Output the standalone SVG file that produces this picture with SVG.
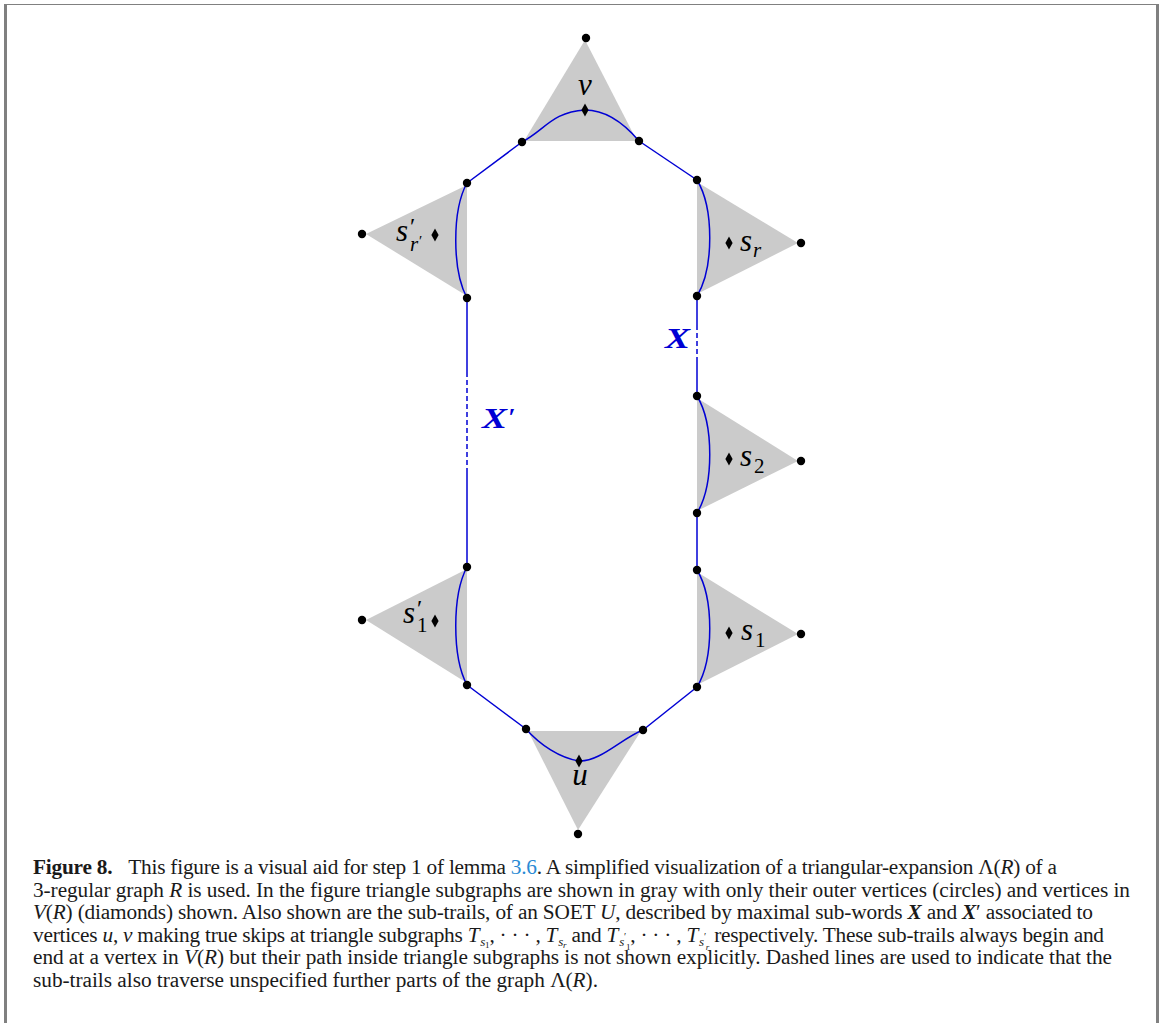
<svg xmlns="http://www.w3.org/2000/svg" width="1163" height="1023" viewBox="0 0 1163 1023">
<style>
.tri{fill:#cbcbcb;stroke:none}
.trail{fill:none;stroke:#0000d4;stroke-width:1.5}
.dash{fill:none;stroke:#0000d4;stroke-width:1.5;stroke-dasharray:5 3}
.m{font-family:"Liberation Serif","Times New Roman",serif;font-style:italic;fill:#000}
.up{font-family:"Liberation Serif","Times New Roman",serif;font-style:normal;fill:#000}
.bx{font-family:"Liberation Serif","Times New Roman",serif;font-style:italic;font-weight:bold;fill:#0000d4}
.cap{font-family:"Liberation Serif","Times New Roman",serif;font-size:21.3px;fill:#1a1a1a}
.i{font-style:italic}
.b{font-weight:bold}
.link{fill:#2a8ad4}
</style>
<defs>
<path id="dia" d="M0,-6.5 L3.6,0 L0,6.5 L-3.6,0 Z" fill="#000"/>
<circle id="pt" r="4.2" fill="#000"/>
</defs>
<rect x="0" y="0" width="1163" height="1023" fill="#fff"/>
<g id="frame" fill="none" stroke="#808080">
<line x1="4" y1="4.5" x2="1159" y2="4.5" stroke-width="1"/>
<line x1="5.5" y1="4" x2="5.5" y2="1023" stroke-width="3"/>
<line x1="1157.5" y1="4" x2="1157.5" y2="1023" stroke-width="3"/>
</g>

<g id="triangles">
<polygon id="tri-v" class="tri" points="585,40 524,141 637,141"/>
<polygon id="tri-srp" class="tri" points="366,234 467,185 467,296"/>
<polygon id="tri-sr" class="tri" points="697,182 798,243 697,294"/>
<polygon id="tri-s2" class="tri" points="697,398 798,461 697,511"/>
<polygon id="tri-s1" class="tri" points="697,572 798,634 697,685"/>
<polygon id="tri-s1p" class="tri" points="366,620 467,569 467,683"/>
<polygon id="tri-u" class="tri" points="528,731 641,731 578,830"/>
</g>

<g id="connectors">
<path class="trail" d="M522,142 C545,130 552,112 585,110 C610,110 628,128 639,141"/>
<path class="trail" d="M467,183 L522,142"/>
<path class="trail" d="M639,141 L697,180"/>
<path class="trail" d="M467,183 C452,210 452,270 467,298"/>
<path class="trail" d="M697,180 C714,208 714,268 697,296"/>
<path class="trail" d="M467,298 L467,372"/>
<path class="dash" d="M467,372 L467,470"/>
<path class="trail" d="M467,470 L467,567"/>
<path class="trail" d="M697,296 L697,325"/>
<path class="dash" d="M697,325 L697,360"/>
<path class="trail" d="M697,360 L697,396"/>
<path class="trail" d="M697,396 C714,424 714,485 697,513"/>
<path class="trail" d="M697,513 L697,570"/>
<path class="trail" d="M697,570 C714,598 714,659 697,687"/>
<path class="trail" d="M467,567 C452,595 452,657 467,685"/>
<path class="trail" d="M467,685 L526,729"/>
<path class="trail" d="M697,687 L643,730"/>
<path class="trail" d="M526,729 C540,745 560,758 579,761 C600,762 622,738 643,730"/>
</g>

<g id="node-v">
<use href="#pt" x="586" y="38"/>
<use href="#pt" x="522" y="142"/>
<use href="#pt" x="639" y="141"/>
<use href="#dia" x="585" y="110"/>
<text class="m" x="585" y="95" font-size="31" text-anchor="middle">v</text>
</g>
<g id="node-srp">
<use href="#pt" x="362" y="234"/>
<use href="#pt" x="467" y="183"/>
<use href="#pt" x="467" y="298"/>
<use href="#dia" x="435" y="235"/>
<text class="m" x="396" y="241" font-size="31">s</text>
<text class="up" x="410" y="234" font-size="24">′</text>
<text class="m" x="410" y="251" font-size="21">r</text>
<text class="up" x="419" y="246" font-size="15">′</text>
</g>
<g id="node-sr">
<use href="#pt" x="697" y="180"/>
<use href="#pt" x="697" y="296"/>
<use href="#pt" x="801" y="243"/>
<use href="#dia" x="729" y="243"/>
<text class="m" x="740" y="251" font-size="31">s</text>
<text class="m" x="753" y="257" font-size="21">r</text>
</g>
<g id="node-s2">
<use href="#pt" x="697" y="396"/>
<use href="#pt" x="697" y="513"/>
<use href="#pt" x="801" y="461"/>
<use href="#dia" x="729" y="459"/>
<text class="m" x="740" y="466" font-size="31">s</text>
<text class="up" x="754" y="473" font-size="21">2</text>
</g>
<g id="node-s1">
<use href="#pt" x="697" y="570"/>
<use href="#pt" x="697" y="687"/>
<use href="#pt" x="801" y="634"/>
<use href="#dia" x="729" y="633"/>
<text class="m" x="741" y="640" font-size="31">s</text>
<text class="up" x="755" y="647" font-size="21">1</text>
</g>
<g id="node-s1p">
<use href="#pt" x="467" y="567"/>
<use href="#pt" x="467" y="685"/>
<use href="#pt" x="362" y="620"/>
<use href="#dia" x="435" y="621"/>
<text class="m" x="403" y="623" font-size="31">s</text>
<text class="up" x="417" y="616" font-size="24">′</text>
<text class="up" x="417" y="632" font-size="21">1</text>
</g>
<g id="node-u">
<use href="#pt" x="526" y="729"/>
<use href="#pt" x="643" y="730"/>
<use href="#pt" x="578" y="834"/>
<use href="#dia" x="579" y="761"/>
<text class="m" x="580" y="785" font-size="31" text-anchor="middle">u</text>
</g>
<g id="labels">
<text class="bx" x="665" y="348" font-size="30" textLength="25" lengthAdjust="spacingAndGlyphs">X</text>
<text class="bx" x="482" y="428" font-size="30" textLength="25" lengthAdjust="spacingAndGlyphs">X</text>
<text class="bx" x="508" y="426" font-size="26" font-weight="normal" font-style="normal">′</text>
</g>

<g id="caption">
<text class="cap" x="33" y="874" textLength="1024" lengthAdjust="spacing"><tspan class="b">Figure 8.</tspan><tspan dx="16">This figure is a visual aid for step 1 of lemma </tspan><tspan class="link">3.6</tspan>. A simplified visualization of a triangular-expansion Λ(<tspan class="i">R</tspan>) of a</text>
<text class="cap" x="33" y="896.5" textLength="1097" lengthAdjust="spacing">3-regular graph <tspan class="i">R</tspan> is used. In the figure triangle subgraphs are shown in gray with only their outer vertices (circles) and vertices in</text>
<text class="cap" x="33" y="919" textLength="1060" lengthAdjust="spacing"><tspan class="i">V</tspan>(<tspan class="i">R</tspan>) (diamonds) shown. Also shown are the sub-trails, of an SOET <tspan class="i">U</tspan>, described by maximal sub-words <tspan class="i b">X</tspan> and <tspan class="i b">X</tspan>′ associated to</text>
<text class="cap" x="33" y="941.5" textLength="1071" lengthAdjust="spacing">vertices <tspan class="i">u</tspan>, <tspan class="i">v</tspan> making true skips at triangle subgraphs <tspan class="i">T</tspan><tspan class="i" font-size="13" dx="1" dy="4">s</tspan><tspan font-size="9" dy="2">1</tspan><tspan dy="-6">, · · · , </tspan><tspan class="i">T</tspan><tspan class="i" font-size="13" dx="1" dy="4">s</tspan><tspan class="i" font-size="9" dy="2">r</tspan><tspan dy="-6"> and </tspan><tspan class="i">T</tspan><tspan class="i" font-size="13" dx="1" dy="4">s</tspan><tspan font-size="10" dy="-6">′</tspan><tspan font-size="9" dy="10">1</tspan><tspan dy="-8">, · · · , </tspan><tspan class="i">T</tspan><tspan class="i" font-size="13" dx="1" dy="4">s</tspan><tspan font-size="10" dy="-6">′</tspan><tspan class="i" font-size="9" dy="10">r</tspan><tspan dy="-8"> respectively. These sub-trails always begin and</tspan></text>
<text class="cap" x="33" y="964" textLength="1079" lengthAdjust="spacing">end at a vertex in <tspan class="i">V</tspan>(<tspan class="i">R</tspan>) but their path inside triangle subgraphs is not shown explicitly. Dashed lines are used to indicate that the</text>
<text class="cap" x="33" y="986.5" textLength="565" lengthAdjust="spacing">sub-trails also traverse unspecified further parts of the graph Λ(<tspan class="i">R</tspan>).</text>
</g>
</svg>
